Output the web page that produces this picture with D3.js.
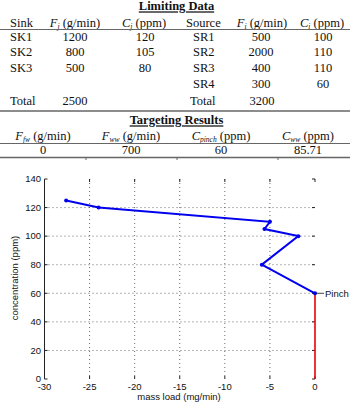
<!DOCTYPE html>
<meta charset="utf-8">
<script src="https://d3js.org/d3.v7.min.js"></script>
<style>
  body { margin: 0; background: #fff; }
  .tbl { font-family: "Liberation Serif", "Times New Roman", serif; font-size: 12.5px; fill: #111; }
  .ax { font-family: "Liberation Sans", Arial, sans-serif; font-size: 9.5px; fill: #111; }
</style>
<div id="my_dataviz"></div>
<script>

// limiting data
var sinkNames = ["SK1", "SK2", "SK3"];
var sinkFlow = [1200, 800, 500];
var sinkConc = [120, 105, 80];
var sourceNames = ["SR1", "SR2", "SR3", "SR4"];
var sourceFlow = [500, 2000, 400, 300];
var sourceConc = [100, 110, 110, 60];
var sinkTotal = 2500, sourceTotal = 3200;

// targeting results
var targetHeads = [["F", "fw", " (g/min)"], ["F", "ww", " (g/min)"], ["C", "pinch", " (ppm)"], ["C", "ww", " (ppm)"]];
var targetValues = ["0", "700", "60", "85.71"];

// composite curve
var massLoad = [-27.6, -24, -5, -5.6, -1.85, -5.9, 0];
var concentration = [125, 120, 110, 105, 100, 80, 60];
var pinchLoad = [0, 0];
var pinchConc = [60, 0];

var xTicks = [-30, -25, -20, -15, -10, -5, 0];
var yTicks = [0, 20, 40, 60, 80, 100, 120, 140];

var W = 353, H = 402;
var svg = d3.select("#my_dataviz").append("svg")
  .attr("width", W).attr("height", H);

// ---------- table ----------
var t = svg.append("g").attr("class", "tbl");

function title(txt, y) {
  t.append("text").attr("x", 176.5).attr("y", y).attr("dy", "0.35em")
    .attr("text-anchor", "middle").attr("font-weight", "bold")
    .attr("text-decoration", "underline").text(txt);
}
function sub(x, y, head) {
  var el = t.append("text").attr("x", x).attr("y", y).attr("dy", "0.35em").attr("text-anchor", "middle");
  el.append("tspan").attr("font-style", "italic").text(head[0]);
  el.append("tspan").attr("font-style", "italic").attr("font-size", "7.5px").attr("dy", "2").text(head[1]);
  el.append("tspan").attr("dy", "-2").text(head[2]);
}
function cell(x, y, txt, anchor) {
  t.append("text").attr("x", x).attr("y", y).attr("dy", "0.35em")
    .attr("text-anchor", anchor || "middle").text(txt);
}
function hline(y, w) {
  svg.append("line").attr("x1", 0).attr("x2", 350).attr("y1", y).attr("y2", y)
    .attr("stroke", "#666").attr("stroke-width", w);
}

title("Limiting Data", 6);
cell(10, 22.5, "Sink", "start");
sub(75, 22.5, ["F", "j", " (g/min)"]);
sub(144, 22.5, ["C", "j", " (ppm)"]);
cell(186, 22.5, "Source", "start");
sub(262, 22.5, ["F", "i", " (g/min)"]);
sub(322, 22.5, ["C", "i", " (ppm)"]);
hline(29.5, 1);

var rowY = [36.7, 51.7, 68, 83.3];
sinkNames.forEach(function(d, i) {
  cell(10, rowY[i], d, "start");
  cell(75, rowY[i], sinkFlow[i]);
  cell(145, rowY[i], sinkConc[i]);
});
sourceNames.forEach(function(d, i) {
  cell(193, rowY[i], d, "start");
  cell(261, rowY[i], sourceFlow[i]);
  cell(323, rowY[i], sourceConc[i]);
});
cell(10, 101, "Total", "start");
cell(75, 101, sinkTotal);
cell(190, 101, "Total", "start");
cell(262, 101, sourceTotal);
hline(111, 1.5);

title("Targeting Results", 120);
var colX = [43, 131, 221, 308];
targetHeads.forEach(function(h, i) { sub(colX[i], 136, h); });
hline(143.5, 1);
targetValues.forEach(function(v, i) { cell(colX[i], 150, v); });
hline(157.5, 1.5);
[86, 177, 278].forEach(function(x) {
  svg.append("line").attr("x1", x).attr("x2", x).attr("y1", 157.5).attr("y2", 160)
    .attr("stroke", "#666");
});

// ---------- chart ----------
var x = d3.scaleLinear().domain([-30, 0]).range([44.5, 315]);
var y = d3.scaleLinear().domain([0, 140]).range([379, 179]);

var g = svg.append("g");

// grid
g.selectAll(".hg").data(yTicks.filter(function(d) { return d > 0 && d < 140; }))
  .enter().append("line")
  .attr("x1", x(-30)).attr("x2", x(0))
  .attr("y1", function(d) { return y(d); }).attr("y2", function(d) { return y(d); })
  .attr("stroke", "#444").attr("stroke-width", 0.8).attr("stroke-dasharray", "1,3");
g.selectAll(".vg").data(xTicks.filter(function(d) { return d > -30 && d < 0; }))
  .enter().append("line")
  .attr("x1", function(d) { return x(d); }).attr("x2", function(d) { return x(d); })
  .attr("y1", y(140)).attr("y2", y(0))
  .attr("stroke", "#444").attr("stroke-width", 0.8).attr("stroke-dasharray", "1,3");

// inward ticks
yTicks.forEach(function(d) {
  g.append("line").attr("x1", x(-30)).attr("x2", x(-30) + 3).attr("y1", y(d)).attr("y2", y(d)).attr("stroke", "#222");
  g.append("line").attr("x1", x(0) - 3).attr("x2", x(0)).attr("y1", y(d)).attr("y2", y(d)).attr("stroke", "#222");
});
xTicks.forEach(function(d) {
  g.append("line").attr("x1", x(d)).attr("x2", x(d)).attr("y1", y(0)).attr("y2", y(0) - 3).attr("stroke", "#222");
  g.append("line").attr("x1", x(d)).attr("x2", x(d)).attr("y1", y(140)).attr("y2", y(140) + 3).attr("stroke", "#222");
});

// left axis line
g.append("line").attr("x1", x(-30)).attr("x2", x(-30)).attr("y1", y(140)).attr("y2", y(0))
  .attr("stroke", "#222").attr("stroke-width", 1);

// tick labels
g.selectAll(".yl").data(yTicks).enter().append("text").attr("class", "ax")
  .attr("x", 41).attr("y", function(d) { return y(d); }).attr("dy", "0.35em")
  .attr("text-anchor", "end").text(function(d) { return d; });
g.selectAll(".xl").data(xTicks).enter().append("text").attr("class", "ax")
  .attr("x", function(d) { return x(d); }).attr("y", 387).attr("dy", "0.35em")
  .attr("text-anchor", "middle").text(function(d) { return d; });

g.append("text").attr("class", "ax")
  .attr("transform", "translate(15," + 278 + ") rotate(-90)")
  .attr("text-anchor", "middle").attr("dy", "0.35em").text("concentration (ppm)");
g.append("text").attr("class", "ax")
  .attr("x", 179).attr("y", 397).attr("dy", "0.35em")
  .attr("text-anchor", "middle").text("mass load (mg/min)");

var pts = massLoad.map(function(d, i) { return [d, concentration[i]]; });
var pinchPts = pinchLoad.map(function(d, i) { return [d, pinchConc[i]]; });
var line = d3.line().x(function(d) { return x(d[0]); }).y(function(d) { return y(d[1]); });

// pinch (red) line
g.append("path").datum(pinchPts).attr("d", line)
  .attr("fill", "none").attr("stroke", "#e8000b").attr("stroke-width", 1.6);

// composite curve
g.append("path").datum(pts).attr("d", line)
  .attr("fill", "none").attr("stroke", "#0000ee").attr("stroke-width", 2);
g.selectAll(".pt").data(pts).enter().append("circle")
  .attr("cx", function(d) { return x(d[0]); }).attr("cy", function(d) { return y(d[1]); })
  .attr("r", 2).attr("fill", "#0000ee");

// pinch label
g.append("line").attr("x1", x(0) + 1).attr("x2", x(0) + 9).attr("y1", y(60)).attr("y2", y(60))
  .attr("stroke", "#111").attr("stroke-width", 0.8);
g.append("text").attr("class", "ax")
  .attr("x", x(0) + 10).attr("y", y(60)).attr("dy", "0.35em").text("Pinch");

</script>
